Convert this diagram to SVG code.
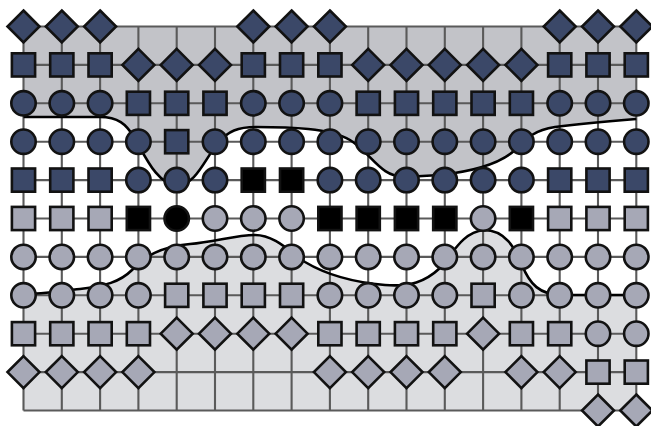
<svg xmlns="http://www.w3.org/2000/svg" xmlns:xlink="http://www.w3.org/1999/xlink" width="651" height="426" viewBox="0 0 651 426">
<style>
.d{fill:#3b4868}.l{fill:#a6a8b6}.k{fill:#000}
.sh{stroke:#121212;stroke-width:2.6}
.grid{stroke:#5a5a5a;stroke-width:2.1;fill:none}
.bd{stroke:#000;stroke-width:2.6;fill:none}
</style>
<defs>
<rect id="sq" class="sh" x="-11.6" y="-11.6" width="23.2" height="23.2"/>
<circle id="ci" class="sh" r="12.2"/>
<path id="di" class="sh" d="M0,-16L16,0L0,16L-16,0Z"/>
</defs>
<rect width="651" height="426" fill="#fff"/>
<g id="regions">
<path fill="#c2c3c8" d="M23.5,117 L100,117 C118,117 126,124 134,137 C146,158 158,185 177,185 C196,185 204,160 218,143 C228,131 238,127 256,127 C290,127 330,128 350,140 C372,154 380,177 405,177 L440,175 C475,171 500,164 515,150 C528,137 535,130 555,127 C585,123 610,121 636.3,119 L636.3,26.5 L23.5,26.5Z"/>
<path fill="#dcdde0" d="M23.5,294 C45,294 60,291 80,289 C105,286 120,282 132,270 C145,256 160,247 190,244 C215,242 235,235 255,235 C275,235 290,252 305,262 C325,274 350,282 385,285 C410,287 425,282 440,268 C452,255 462,232 484,230 C505,230 515,248 522,265 C530,285 540,294 560,295 L636.3,295 L636.3,410.5 L23.5,410.5Z"/>
</g>
<g id="connectors">
<path class="grid" d="M23.5,26.5H636.3M23.5,64.9H636.3M23.5,103.3H636.3M23.5,141.7H636.3M23.5,180.1H636.3M23.5,218.5H636.3M23.5,256.9H636.3M23.5,295.3H636.3M23.5,333.7H636.3M23.5,372.1H636.3M23.5,410.5H636.3"/>
<path class="grid" d="M23.5,26.5V410.5M61.8,26.5V410.5M100.1,26.5V410.5M138.4,26.5V410.5M176.7,26.5V410.5M215,26.5V410.5M253.3,26.5V410.5M291.6,26.5V410.5M329.9,26.5V410.5M368.2,26.5V410.5M406.5,26.5V410.5M444.8,26.5V410.5M483.1,26.5V410.5M521.4,26.5V410.5M559.7,26.5V410.5M598,26.5V410.5M636.3,26.5V410.5"/>
</g>
<g id="boundaries">
<path class="bd" d="M23.5,117 L100,117 C118,117 126,124 134,137 C146,158 158,185 177,185 C196,185 204,160 218,143 C228,131 238,127 256,127 C290,127 330,128 350,140 C372,154 380,177 405,177 L440,175 C475,171 500,164 515,150 C528,137 535,130 555,127 C585,123 610,121 636.3,119"/>
<path class="bd" d="M23.5,294 C45,294 60,291 80,289 C105,286 120,282 132,270 C145,256 160,247 190,244 C215,242 235,235 255,235 C275,235 290,252 305,262 C325,274 350,282 385,285 C410,287 425,282 440,268 C452,255 462,232 484,230 C505,230 515,248 522,265 C530,285 540,294 560,295 L636.3,295"/>
</g>
<g id="nodes">
<g id="r0c0"><use href="#di" class="d" x="23.5" y="26.5"/></g>
<g id="r0c1"><use href="#di" class="d" x="61.8" y="26.5"/></g>
<g id="r0c2"><use href="#di" class="d" x="100.1" y="26.5"/></g>
<g id="r0c6"><use href="#di" class="d" x="253.3" y="26.5"/></g>
<g id="r0c7"><use href="#di" class="d" x="291.6" y="26.5"/></g>
<g id="r0c8"><use href="#di" class="d" x="329.9" y="26.5"/></g>
<g id="r0c14"><use href="#di" class="d" x="559.7" y="26.5"/></g>
<g id="r0c15"><use href="#di" class="d" x="598" y="26.5"/></g>
<g id="r0c16"><use href="#di" class="d" x="636.3" y="26.5"/></g>

<g id="r1c0"><use href="#sq" class="d" x="23.5" y="64.9"/></g>
<g id="r1c1"><use href="#sq" class="d" x="61.8" y="64.9"/></g>
<g id="r1c2"><use href="#sq" class="d" x="100.1" y="64.9"/></g>
<g id="r1c3"><use href="#di" class="d" x="138.4" y="64.9"/></g>
<g id="r1c4"><use href="#di" class="d" x="176.7" y="64.9"/></g>
<g id="r1c5"><use href="#di" class="d" x="215" y="64.9"/></g>
<g id="r1c6"><use href="#sq" class="d" x="253.3" y="64.9"/></g>
<g id="r1c7"><use href="#sq" class="d" x="291.6" y="64.9"/></g>
<g id="r1c8"><use href="#sq" class="d" x="329.9" y="64.9"/></g>
<g id="r1c9"><use href="#di" class="d" x="368.2" y="64.9"/></g>
<g id="r1c10"><use href="#di" class="d" x="406.5" y="64.9"/></g>
<g id="r1c11"><use href="#di" class="d" x="444.8" y="64.9"/></g>
<g id="r1c12"><use href="#di" class="d" x="483.1" y="64.9"/></g>
<g id="r1c13"><use href="#di" class="d" x="521.4" y="64.9"/></g>
<g id="r1c14"><use href="#sq" class="d" x="559.7" y="64.9"/></g>
<g id="r1c15"><use href="#sq" class="d" x="598" y="64.9"/></g>
<g id="r1c16"><use href="#sq" class="d" x="636.3" y="64.9"/></g>

<g id="r2c0"><use href="#ci" class="d" x="23.5" y="103.3"/></g>
<g id="r2c1"><use href="#ci" class="d" x="61.8" y="103.3"/></g>
<g id="r2c2"><use href="#ci" class="d" x="100.1" y="103.3"/></g>
<g id="r2c3"><use href="#sq" class="d" x="138.4" y="103.3"/></g>
<g id="r2c4"><use href="#sq" class="d" x="176.7" y="103.3"/></g>
<g id="r2c5"><use href="#sq" class="d" x="215" y="103.3"/></g>
<g id="r2c6"><use href="#ci" class="d" x="253.3" y="103.3"/></g>
<g id="r2c7"><use href="#ci" class="d" x="291.6" y="103.3"/></g>
<g id="r2c8"><use href="#ci" class="d" x="329.9" y="103.3"/></g>
<g id="r2c9"><use href="#sq" class="d" x="368.2" y="103.3"/></g>
<g id="r2c10"><use href="#sq" class="d" x="406.5" y="103.3"/></g>
<g id="r2c11"><use href="#sq" class="d" x="444.8" y="103.3"/></g>
<g id="r2c12"><use href="#sq" class="d" x="483.1" y="103.3"/></g>
<g id="r2c13"><use href="#sq" class="d" x="521.4" y="103.3"/></g>
<g id="r2c14"><use href="#ci" class="d" x="559.7" y="103.3"/></g>
<g id="r2c15"><use href="#ci" class="d" x="598" y="103.3"/></g>
<g id="r2c16"><use href="#ci" class="d" x="636.3" y="103.3"/></g>

<g id="r3c0"><use href="#ci" class="d" x="23.5" y="141.7"/></g>
<g id="r3c1"><use href="#ci" class="d" x="61.8" y="141.7"/></g>
<g id="r3c2"><use href="#ci" class="d" x="100.1" y="141.7"/></g>
<g id="r3c3"><use href="#ci" class="d" x="138.4" y="141.7"/></g>
<g id="r3c4"><use href="#sq" class="d" x="176.7" y="141.7"/></g>
<g id="r3c5"><use href="#ci" class="d" x="215" y="141.7"/></g>
<g id="r3c6"><use href="#ci" class="d" x="253.3" y="141.7"/></g>
<g id="r3c7"><use href="#ci" class="d" x="291.6" y="141.7"/></g>
<g id="r3c8"><use href="#ci" class="d" x="329.9" y="141.7"/></g>
<g id="r3c9"><use href="#ci" class="d" x="368.2" y="141.7"/></g>
<g id="r3c10"><use href="#ci" class="d" x="406.5" y="141.7"/></g>
<g id="r3c11"><use href="#ci" class="d" x="444.8" y="141.7"/></g>
<g id="r3c12"><use href="#ci" class="d" x="483.1" y="141.7"/></g>
<g id="r3c13"><use href="#ci" class="d" x="521.4" y="141.7"/></g>
<g id="r3c14"><use href="#ci" class="d" x="559.7" y="141.7"/></g>
<g id="r3c15"><use href="#ci" class="d" x="598" y="141.7"/></g>
<g id="r3c16"><use href="#ci" class="d" x="636.3" y="141.7"/></g>

<g id="r4c0"><use href="#sq" class="d" x="23.5" y="180.1"/></g>
<g id="r4c1"><use href="#sq" class="d" x="61.8" y="180.1"/></g>
<g id="r4c2"><use href="#sq" class="d" x="100.1" y="180.1"/></g>
<g id="r4c3"><use href="#ci" class="d" x="138.4" y="180.1"/></g>
<g id="r4c4"><use href="#ci" class="d" x="176.7" y="180.1"/></g>
<g id="r4c5"><use href="#ci" class="d" x="215" y="180.1"/></g>
<g id="r4c6"><use href="#sq" class="k" x="253.3" y="180.1"/></g>
<g id="r4c7"><use href="#sq" class="k" x="291.6" y="180.1"/></g>
<g id="r4c8"><use href="#ci" class="d" x="329.9" y="180.1"/></g>
<g id="r4c9"><use href="#ci" class="d" x="368.2" y="180.1"/></g>
<g id="r4c10"><use href="#ci" class="d" x="406.5" y="180.1"/></g>
<g id="r4c11"><use href="#ci" class="d" x="444.8" y="180.1"/></g>
<g id="r4c12"><use href="#ci" class="d" x="483.1" y="180.1"/></g>
<g id="r4c13"><use href="#ci" class="d" x="521.4" y="180.1"/></g>
<g id="r4c14"><use href="#sq" class="d" x="559.7" y="180.1"/></g>
<g id="r4c15"><use href="#sq" class="d" x="598" y="180.1"/></g>
<g id="r4c16"><use href="#sq" class="d" x="636.3" y="180.1"/></g>

<g id="r5c0"><use href="#sq" class="l" x="23.5" y="218.5"/></g>
<g id="r5c1"><use href="#sq" class="l" x="61.8" y="218.5"/></g>
<g id="r5c2"><use href="#sq" class="l" x="100.1" y="218.5"/></g>
<g id="r5c3"><use href="#sq" class="k" x="138.4" y="218.5"/></g>
<g id="r5c4"><use href="#ci" class="k" x="176.7" y="218.5"/></g>
<g id="r5c5"><use href="#ci" class="l" x="215" y="218.5"/></g>
<g id="r5c6"><use href="#ci" class="l" x="253.3" y="218.5"/></g>
<g id="r5c7"><use href="#ci" class="l" x="291.6" y="218.5"/></g>
<g id="r5c8"><use href="#sq" class="k" x="329.9" y="218.5"/></g>
<g id="r5c9"><use href="#sq" class="k" x="368.2" y="218.5"/></g>
<g id="r5c10"><use href="#sq" class="k" x="406.5" y="218.5"/></g>
<g id="r5c11"><use href="#sq" class="k" x="444.8" y="218.5"/></g>
<g id="r5c12"><use href="#ci" class="l" x="483.1" y="218.5"/></g>
<g id="r5c13"><use href="#sq" class="k" x="521.4" y="218.5"/></g>
<g id="r5c14"><use href="#sq" class="l" x="559.7" y="218.5"/></g>
<g id="r5c15"><use href="#sq" class="l" x="598" y="218.5"/></g>
<g id="r5c16"><use href="#sq" class="l" x="636.3" y="218.5"/></g>

<g id="r6c0"><use href="#ci" class="l" x="23.5" y="256.9"/></g>
<g id="r6c1"><use href="#ci" class="l" x="61.8" y="256.9"/></g>
<g id="r6c2"><use href="#ci" class="l" x="100.1" y="256.9"/></g>
<g id="r6c3"><use href="#ci" class="l" x="138.4" y="256.9"/></g>
<g id="r6c4"><use href="#ci" class="l" x="176.7" y="256.9"/></g>
<g id="r6c5"><use href="#ci" class="l" x="215" y="256.9"/></g>
<g id="r6c6"><use href="#ci" class="l" x="253.3" y="256.9"/></g>
<g id="r6c7"><use href="#ci" class="l" x="291.6" y="256.9"/></g>
<g id="r6c8"><use href="#ci" class="l" x="329.9" y="256.9"/></g>
<g id="r6c9"><use href="#ci" class="l" x="368.2" y="256.9"/></g>
<g id="r6c10"><use href="#ci" class="l" x="406.5" y="256.9"/></g>
<g id="r6c11"><use href="#ci" class="l" x="444.8" y="256.9"/></g>
<g id="r6c12"><use href="#ci" class="l" x="483.1" y="256.9"/></g>
<g id="r6c13"><use href="#ci" class="l" x="521.4" y="256.9"/></g>
<g id="r6c14"><use href="#ci" class="l" x="559.7" y="256.9"/></g>
<g id="r6c15"><use href="#ci" class="l" x="598" y="256.9"/></g>
<g id="r6c16"><use href="#ci" class="l" x="636.3" y="256.9"/></g>

<g id="r7c0"><use href="#ci" class="l" x="23.5" y="295.3"/></g>
<g id="r7c1"><use href="#ci" class="l" x="61.8" y="295.3"/></g>
<g id="r7c2"><use href="#ci" class="l" x="100.1" y="295.3"/></g>
<g id="r7c3"><use href="#ci" class="l" x="138.4" y="295.3"/></g>
<g id="r7c4"><use href="#sq" class="l" x="176.7" y="295.3"/></g>
<g id="r7c5"><use href="#sq" class="l" x="215" y="295.3"/></g>
<g id="r7c6"><use href="#sq" class="l" x="253.3" y="295.3"/></g>
<g id="r7c7"><use href="#sq" class="l" x="291.6" y="295.3"/></g>
<g id="r7c8"><use href="#ci" class="l" x="329.9" y="295.3"/></g>
<g id="r7c9"><use href="#ci" class="l" x="368.2" y="295.3"/></g>
<g id="r7c10"><use href="#ci" class="l" x="406.5" y="295.3"/></g>
<g id="r7c11"><use href="#ci" class="l" x="444.8" y="295.3"/></g>
<g id="r7c12"><use href="#sq" class="l" x="483.1" y="295.3"/></g>
<g id="r7c13"><use href="#ci" class="l" x="521.4" y="295.3"/></g>
<g id="r7c14"><use href="#ci" class="l" x="559.7" y="295.3"/></g>
<g id="r7c15"><use href="#ci" class="l" x="598" y="295.3"/></g>
<g id="r7c16"><use href="#ci" class="l" x="636.3" y="295.3"/></g>

<g id="r8c0"><use href="#sq" class="l" x="23.5" y="333.7"/></g>
<g id="r8c1"><use href="#sq" class="l" x="61.8" y="333.7"/></g>
<g id="r8c2"><use href="#sq" class="l" x="100.1" y="333.7"/></g>
<g id="r8c3"><use href="#sq" class="l" x="138.4" y="333.7"/></g>
<g id="r8c4"><use href="#di" class="l" x="176.7" y="333.7"/></g>
<g id="r8c5"><use href="#di" class="l" x="215" y="333.7"/></g>
<g id="r8c6"><use href="#di" class="l" x="253.3" y="333.7"/></g>
<g id="r8c7"><use href="#di" class="l" x="291.6" y="333.7"/></g>
<g id="r8c8"><use href="#sq" class="l" x="329.9" y="333.7"/></g>
<g id="r8c9"><use href="#sq" class="l" x="368.2" y="333.7"/></g>
<g id="r8c10"><use href="#sq" class="l" x="406.5" y="333.7"/></g>
<g id="r8c11"><use href="#sq" class="l" x="444.8" y="333.7"/></g>
<g id="r8c12"><use href="#di" class="l" x="483.1" y="333.7"/></g>
<g id="r8c13"><use href="#sq" class="l" x="521.4" y="333.7"/></g>
<g id="r8c14"><use href="#sq" class="l" x="559.7" y="333.7"/></g>
<g id="r8c15"><use href="#ci" class="l" x="598" y="333.7"/></g>
<g id="r8c16"><use href="#ci" class="l" x="636.3" y="333.7"/></g>

<g id="r9c0"><use href="#di" class="l" x="23.5" y="372.1"/></g>
<g id="r9c1"><use href="#di" class="l" x="61.8" y="372.1"/></g>
<g id="r9c2"><use href="#di" class="l" x="100.1" y="372.1"/></g>
<g id="r9c3"><use href="#di" class="l" x="138.4" y="372.1"/></g>
<g id="r9c8"><use href="#di" class="l" x="329.9" y="372.1"/></g>
<g id="r9c9"><use href="#di" class="l" x="368.2" y="372.1"/></g>
<g id="r9c10"><use href="#di" class="l" x="406.5" y="372.1"/></g>
<g id="r9c11"><use href="#di" class="l" x="444.8" y="372.1"/></g>
<g id="r9c13"><use href="#di" class="l" x="521.4" y="372.1"/></g>
<g id="r9c14"><use href="#di" class="l" x="559.7" y="372.1"/></g>
<g id="r9c15"><use href="#sq" class="l" x="598" y="372.1"/></g>
<g id="r9c16"><use href="#sq" class="l" x="636.3" y="372.1"/></g>

<g id="r10c15"><use href="#di" class="l" x="598" y="410.5"/></g>
<g id="r10c16"><use href="#di" class="l" x="636.3" y="410.5"/></g>
</g>
</svg>
